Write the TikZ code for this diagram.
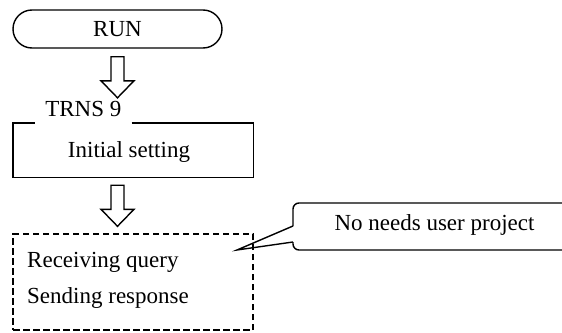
\documentclass[tikz,border=0pt]{standalone}
\usepackage{fontspec}
\setmainfont{Liberation Serif}
\usetikzlibrary{calc}
\tikzset{
  ln/.style={line width=1.4pt},
  txt/.style={anchor=base, inner sep=0pt, font=\fontsize{23}{27}\selectfont},
  boxshape/.style={inner sep=0pt, minimum width=240pt},
  dashbox/.style={draw, ln, dash pattern=on 6.5pt off 3.5pt},
}
\newcommand\blkarrow[2]{%
  \draw[ln, line join=miter] ($(#1)+(-6.5,0)$) -- ($(#2)+(-6.5,-17)$) -- ($(#2)+(-16.5,-17)$) -- (#2)
    -- ($(#2)+(16.5,-17)$) -- ($(#2)+(6.5,-17)$) -- ($(#1)+(6.5,0)$) -- cycle;}
\begin{document}
\begin{tikzpicture}[x=1pt,y=-1pt]
\useasboundingbox (0,0) rectangle (562,332);
\clip (0,0) rectangle (562,332);
% RUN terminal
\node[draw, ln, rounded corners=19pt, minimum width=209pt, minimum height=38pt,
      inner sep=0pt, font=\fontsize{23}{27}\selectfont] (run) at (117.5,29) {RUN};
% TRNS 9 box
\node[boxshape, minimum height=54pt] (trns) at (133,150) {};
\node[txt, inner xsep=10pt] (lbl) at (83.3,116.7) {TRNS 9};
\draw[ln] (lbl.east |- trns.north) -- (trns.north east) -- (trns.south east)
  -- (trns.south west) -- (trns.north west) -- (lbl.west |- trns.north);
\node[txt] (init) at (129,157.7) {Initial setting};
% dashed process box
\node[boxshape, dashbox, minimum height=96pt] (proc) at (133,282) {};
\node[txt, anchor=base west] (recv) at (27,267) {Receiving query};
\node[txt, anchor=base west] (send) at (27,303) {Sending response};
% block arrows
\coordinate (a1s) at ($(run.south)+(0,8)$);
\coordinate (a1e) at ($(run.south |- trns.north)+(0,-25)$);
\coordinate (a2s) at ($(run.south |- trns.south)+(0,8)$);
\coordinate (a2e) at ($(run.south |- proc.north)+(0,-7)$);
\blkarrow{a1s}{a1e}
\blkarrow{a2s}{a2e}
% callout
\node[txt] (note) at (434.5,230) {No needs user project};
\coordinate (tip) at (237,250);
\coordinate (cnw) at (293,203);
\coordinate (cse) at (585,250);
\draw[ln, rounded corners=6pt] (cnw |- 0,242) -- (cnw |- cse) -- (cse) -- (cse |- cnw)
  -- (cnw) -- (cnw |- 0,226);
\draw[ln, line join=miter] (cnw |- 0,226) -- (tip) -- (cnw |- 0,242);
\end{tikzpicture}
\end{document}
